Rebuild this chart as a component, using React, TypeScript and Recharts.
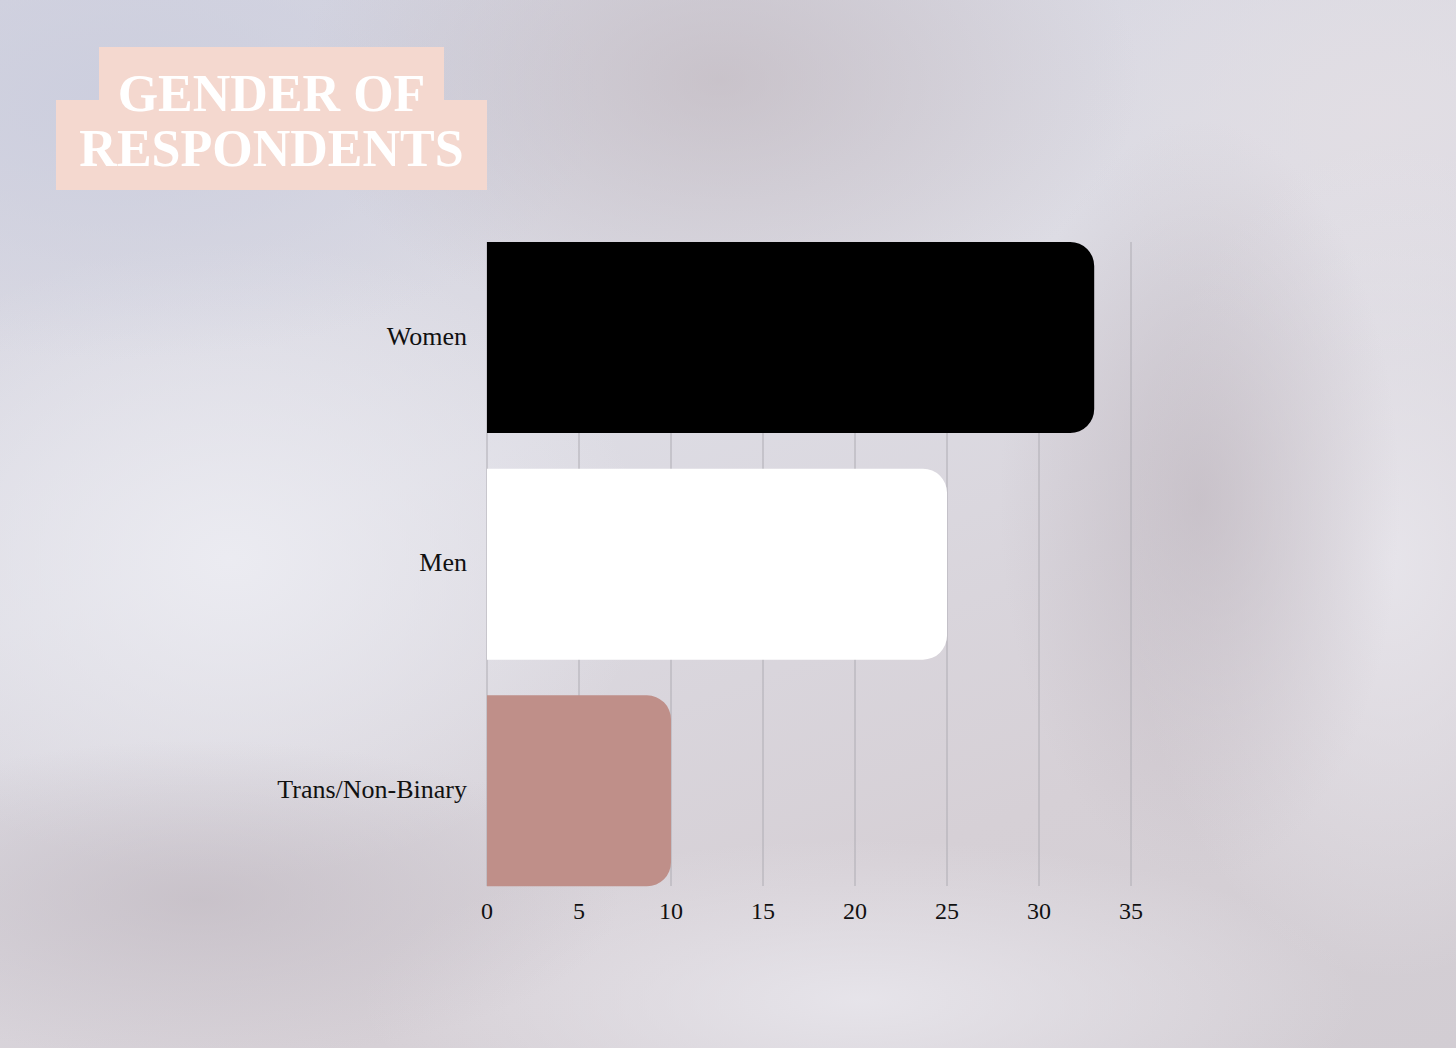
import React from 'react';
import { BarChart, Bar, XAxis, YAxis, CartesianGrid, Cell } from 'recharts';

const categories = ['Women', 'Men', 'Trans/Non-Binary'];
const respondents = [33, 25, 10];
const barColors = ['#000000', '#ffffff', '#bf8f89'];
const xTicks = [0, 5, 10, 15, 20, 25, 30, 35];

const data = categories.map((name, i) => ({ name, value: respondents[i] }));

const FONT = '"Liberation Serif", "Times New Roman", serif';

// soft fabric-like backdrop
const background = [
  'radial-gradient(ellipse 420px 260px at 720px 80px, rgba(190,180,186,0.6), rgba(190,180,186,0) 100%)',
  'radial-gradient(ellipse 200px 380px at 1200px 500px, rgba(192,184,192,0.7), rgba(192,184,192,0) 100%)',
  'radial-gradient(ellipse 420px 160px at 200px 900px, rgba(192,184,192,0.65), rgba(192,184,192,0) 100%)',
  'radial-gradient(ellipse 480px 260px at 120px 100px, rgba(204,206,222,0.95), rgba(204,206,222,0) 100%)',
  'radial-gradient(ellipse 420px 320px at 230px 560px, rgba(236,236,242,0.95), rgba(236,236,242,0) 100%)',
  'radial-gradient(ellipse 260px 420px at 1390px 560px, rgba(232,230,236,0.9), rgba(232,230,236,0) 100%)',
  'radial-gradient(ellipse 500px 160px at 860px 1000px, rgba(232,230,236,0.9), rgba(232,230,236,0) 100%)',
  'radial-gradient(ellipse 300px 240px at 1380px 120px, rgba(226,222,228,0.9), rgba(226,222,228,0) 100%)',
  'linear-gradient(160deg, #d4d4e0 0%, #dddce4 40%, #d6d0d6 75%, #d2cdd3 100%)',
].join(', ');

const GridLine = (props: any) => {
  const { x1, x2, y1, y2 } = props;
  return (
    <line
      key={props.key ?? `${x1}`}
      x1={x1}
      x2={x2}
      y1={y1 + 18}
      y2={y2 - 18}
      stroke="#aeacb3"
      strokeWidth={1}
    />
  );
};

const titleStyle: React.CSSProperties = {
  position: 'absolute',
  left: 56,
  width: 431,
  textAlign: 'center',
  color: '#ffffff',
  fontFamily: FONT,
  fontWeight: 700,
  fontSize: 52,
  lineHeight: '52px',
  whiteSpace: 'nowrap',
};

export default function App() {
  return (
    <div
      style={{
        position: 'absolute',
        left: 0,
        top: 0,
        width: 1456,
        height: 1048,
        background,
        overflow: 'hidden',
      }}
    >
      <div style={{ position: 'absolute', left: 99, top: 47, width: 345, height: 54, background: '#f4d8cf' }} />
      <div style={{ position: 'absolute', left: 56, top: 100, width: 431, height: 90, background: '#f4d8cf' }} />
      <div style={{ ...titleStyle, top: 68 }}>GENDER OF</div>
      <div style={{ ...titleStyle, top: 123 }}>RESPONDENTS</div>

      <div style={{ position: 'absolute', left: 0, top: 0 }}>
        <BarChart
          width={1456}
          height={1048}
          data={data}
          layout="vertical"
          margin={{ top: 224, right: 325, bottom: 114, left: 0 }}
          barCategoryGap={18}
        >
          <CartesianGrid horizontal={false} vertical={GridLine} />
          <XAxis
            type="number"
            domain={[0, 35]}
            ticks={xTicks}
            height={30}
            axisLine={false}
            tickLine={false}
            tickSize={0}
            tickMargin={-2}
            tick={{ fill: '#111', fontSize: 24, fontFamily: FONT }}
            interval={0}
          />
          <YAxis
            type="category"
            dataKey="name"
            width={487}
            axisLine={false}
            tickLine={false}
            tickSize={0}
            tickMargin={20}
            tick={{ fill: '#111', fontSize: 26, fontFamily: FONT, dy: -2 }}
          />
          <Bar dataKey="value" radius={[0, 24, 24, 0]} isAnimationActive={false}>
            {data.map((d, i) => (
              <Cell key={d.name} fill={barColors[i]} />
            ))}
          </Bar>
        </BarChart>
      </div>
    </div>
  );
}
